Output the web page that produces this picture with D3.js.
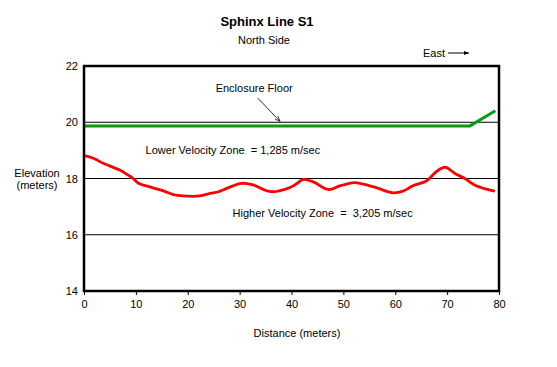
<!DOCTYPE html>
<html>
<head>
<meta charset="utf-8">
<script src="https://cdn.jsdelivr.net/npm/d3@7"></script>
<style>
  body { margin: 0; background: #fff; }
  svg { display: block; font-family: "Liberation Sans", Arial, sans-serif; }
  text { white-space: pre; }
</style>
</head>
<body>
<div id="chart"></div>
<script>
// elevation of the lower/higher velocity boundary (red)
const boundaryDist = [0, 1.8, 3.7, 6.9, 8.5, 9.5, 10.5, 12.7, 15.3, 17.2, 19.1, 22.3, 24.3, 25.9, 27.5, 30.4, 32.6, 36.1, 39.7, 41.1, 42.3, 44.2, 47.1, 49.3, 51.2, 52.2, 55.7, 59.6, 61.5, 63.4, 66.0, 67.9, 69.6, 71.5, 73.4, 75.3, 77.6, 79.2];
const boundaryElev = [18.81, 18.72, 18.54, 18.30, 18.12, 18.0, 17.83, 17.70, 17.56, 17.43, 17.38, 17.38, 17.47, 17.53, 17.65, 17.83, 17.77, 17.53, 17.68, 17.83, 17.97, 17.88, 17.61, 17.74, 17.83, 17.85, 17.71, 17.49, 17.55, 17.74, 17.91, 18.24, 18.40, 18.18, 18.0, 17.77, 17.62, 17.55];

// enclosure floor (green)
const floorDist = [0, 74.4, 79.3];
const floorElev = [19.87, 19.87, 20.41];

const xTicks = [0, 10, 20, 30, 40, 50, 60, 70, 80];
const yTicks = [14, 16, 18, 20, 22];
const gridElev = [16, 18, 20];

const W= 557, H= 367;
const pad= { l: 84, r: 58, t: 66, b: 76 };

const svg= d3.select('#chart').append('svg')
  .attr('width', W).attr('height', H);

const x= d3.scaleLinear().domain([0, 80]).range([pad.l, W-pad.r]);
const y= d3.scaleLinear().domain([14, 22]).range([H-pad.b, pad.t]);

// grid lines
svg.append('g').selectAll('line').data(gridElev).join('line')
  .attr('x1', x(0)).attr('x2', x(80))
  .attr('y1', d => y(d)).attr('y2', d => y(d))
  .attr('stroke', '#000').attr('stroke-width', 1);

// x axis ticks below the frame
const xAx= svg.append('g')
  .attr('transform', `translate(0,${y(14)})`)
  .call(d3.axisBottom(x).tickValues(xTicks).tickSize(4).tickPadding(5));
xAx.select('.domain').remove();
xAx.selectAll('text').attr('font-size', 11).attr('font-family', 'Liberation Sans, Arial, sans-serif');

const yAx= svg.append('g')
  .attr('transform', `translate(${x(0)},0)`)
  .call(d3.axisLeft(y).tickValues(yTicks).tickSize(0).tickPadding(6));
yAx.select('.domain').remove();
yAx.selectAll('text').attr('font-size', 11).attr('font-family', 'Liberation Sans, Arial, sans-serif');

// lines
const line= d3.line().x(d => x(d[0])).y(d => y(d[1]));

svg.append('path')
  .datum(floorDist.map((d, i) => [d, floorElev[i]]))
  .attr('d', line)
  .attr('fill', 'none').attr('stroke', '#0a9a0a').attr('stroke-width', 3);

svg.append('path')
  .datum(boundaryDist.map((d, i) => [d, boundaryElev[i]]))
  .attr('d', d3.line().x(d => x(d[0])).y(d => y(d[1])).curve(d3.curveCatmullRom))
  .attr('fill', 'none').attr('stroke', '#ff0000').attr('stroke-width', 2.8);

// frame
svg.append('rect')
  .attr('x', x(0)).attr('y', y(22))
  .attr('width', x(80)-x(0)).attr('height', y(14)-y(22))
  .attr('fill', 'none').attr('stroke', '#000').attr('stroke-width', 2.5);

// annotations
const defs= svg.append('defs');
defs.append('marker').attr('id', 'ah')
  .attr('viewBox', '0 0 10 10').attr('refX', 10).attr('refY', 5)
  .attr('markerWidth', 7).attr('markerHeight', 7).attr('orient', 'auto')
  .append('path').attr('d', 'M0,1 L10,5 L0,9').attr('fill', 'none').attr('stroke', '#000').attr('stroke-width', 1.2);
defs.append('marker').attr('id', 'ahf')
  .attr('viewBox', '0 0 10 10').attr('refX', 10).attr('refY', 5)
  .attr('markerWidth', 5).attr('markerHeight', 5).attr('orient', 'auto')
  .append('path').attr('d', 'M0,1 L10,5 L0,9 Z').attr('fill', '#000');

svg.append('line')
  .attr('x1', x(33.5)).attr('y1', y(20.86))
  .attr('x2', x(37.8)).attr('y2', y(20.03))
  .attr('stroke', '#000').attr('stroke-width', 0.8)
  .attr('marker-end', 'url(#ah)');

const txt= (xx, yy, s, opts={}) => svg.append('text')
  .attr('x', xx).attr('y', yy)
  .attr('text-anchor', opts.anchor || 'middle')
  .attr('font-size', opts.size || 11)
  .attr('font-weight', opts.weight || 'normal')
  .text(s);

txt(x(32.8), 92, 'Enclosure Floor');
txt(x(28.7), 154, 'Lower Velocity Zone  = 1,285 m/sec');
txt(x(46), 217, 'Higher Velocity Zone  =  3,205 m/sec');

txt(267, 26, 'Sphinx Line S1', { size: 13, weight: 'bold' });
txt(264, 44, 'North Side', { size: 11 });
txt(423, 57, 'East', { anchor: 'start' });

svg.append('line')
  .attr('x1', 448).attr('y1', 53).attr('x2', 469).attr('y2', 53)
  .attr('stroke', '#000').attr('stroke-width', 1)
  .attr('marker-end', 'url(#ahf)');

txt(37, 177, 'Elevation');
txt(37, 189, '(meters)');
txt(297, 337, 'Distance (meters)');
</script>
</body>
</html>
